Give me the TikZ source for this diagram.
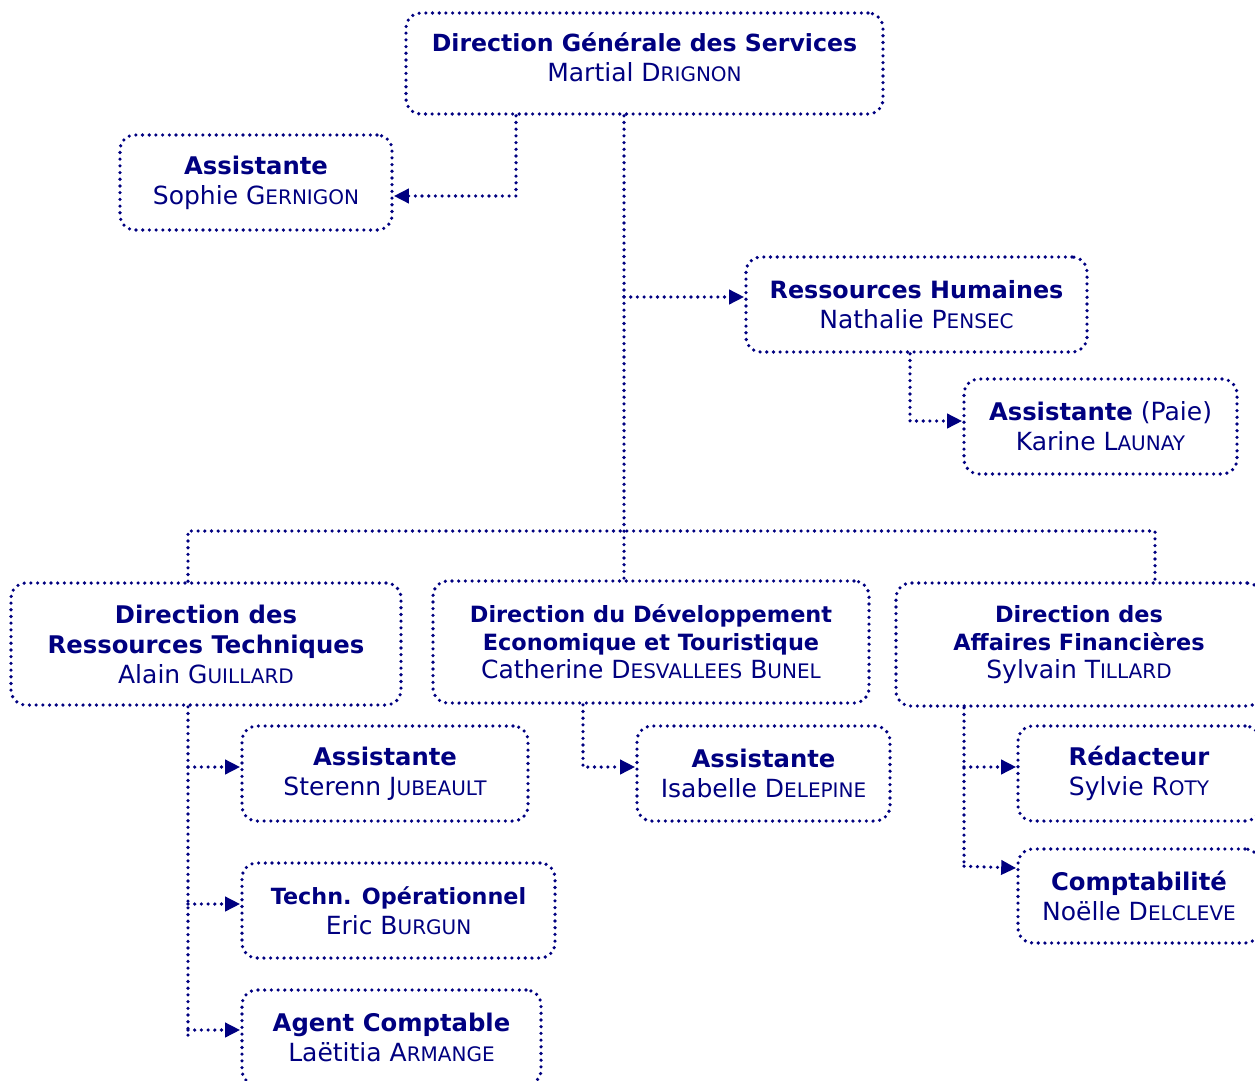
\documentclass[tikz,border=0pt]{standalone}
\usepackage{fontspec}
\setmainfont{DejaVu Sans}
\usetikzlibrary{arrows.meta}
\definecolor{navy}{RGB}{0,0,128}
\newcommand\smc[1]{{\fontsize{20}{30}\selectfont #1}}
\newcommand\ttl[1]{{\fontsize{24.3}{30}\selectfont\bfseries #1}}
\begin{document}
\begin{tikzpicture}[x=1pt, y=-1pt,
   dotline/.style={navy, line width=3.6pt, line cap=round, dash pattern=on 0pt off 6.7pt},
   box/.style={draw, dotline, rounded corners=15pt, inner sep=0pt, align=center, text=navy,
     font=\fontsize{25}{30}\selectfont},
   arr/.style={dotline, -{Triangle[length=15pt, width=14pt]}}]
   \useasboundingbox (0,0) rectangle (1255,1081);
   \clip (0,0) rectangle (1255,1081);
   % boxes
   \node[box, minimum width=477, minimum height=101] (dgs) at (644.5,63.5) {};
   \node[text=navy, align=center, font=\fontsize{25}{30}\selectfont] (dgst) at (644.5,57)
     {{\fontsize{23.6}{30}\selectfont\bfseries Direction Générale des Services}\\Martial D\smc{RIGNON}};
   \node[box, minimum width=272, minimum height=95] (sophie) at (256,182.5)
     {\ttl{Assistante}\\Sophie G\smc{ERNIGON}};
   \node[box, minimum width=341, minimum height=95] (rh) at (916.5,304.5)
     {{\fontsize{23.8}{30}\selectfont\bfseries Ressources Humaines}\\Nathalie P\smc{ENSEC}};
   \node[box, minimum width=273, minimum height=95] (paie) at (1100.5,426.5)
     {\ttl{Assistante} (Paie)\\Karine L\smc{AUNAY}};
   \node[box, minimum width=390, minimum height=122] (drt) at (206,644)
     {\ttl{Direction des}\\\ttl{Ressources Techniques}\\Alain G\smc{UILLARD}};
   \node[box, minimum width=436, minimum height=122, font=\fontsize{25}{28}\selectfont] (ddet) at (651,642)
     {{\fontsize{22.4}{28}\selectfont\bfseries Direction du Développement}\\
      {\fontsize{22.4}{28}\selectfont\bfseries Economique et Touristique}\\
      Catherine D\smc{ESVALLEES} B\smc{UNEL}};
   \node[box, minimum width=366, minimum height=123, font=\fontsize{25}{28}\selectfont] (daf) at (1079,644.5)
     {{\fontsize{22.4}{28}\selectfont\bfseries Direction des}\\
      {\fontsize{22.4}{28}\selectfont\bfseries Affaires Financières}\\
      Sylvain T\smc{ILLARD}};
   \node[box, minimum width=286, minimum height=95] (sterenn) at (385,773.5)
     {\ttl{Assistante}\\Sterenn J\smc{UBEAULT}};
   \node[box, minimum width=313, minimum height=95] (techn) at (398.5,910.5)
     {{\fontsize{22.3}{30}\selectfont\bfseries Techn. Opérationnel}\\Eric B\smc{URGUN}};
   \node[box, minimum width=299, minimum height=95] (agent) at (391.5,1037.5)
     {\ttl{Agent Comptable}\\Laëtitia A\smc{RMANGE}};
   \node[box, minimum width=253, minimum height=95] (isabelle) at (763.5,773.5)
     {\ttl{Assistante}\\Isabelle D\smc{ELEPINE}};
   \node[box, minimum width=242, minimum height=95] (redac) at (1139,773.5)
     {\ttl{Rédacteur}\\Sylvie R\smc{OTY}};
   \node[box, minimum width=242, minimum height=94] (compta) at (1139,896)
     {\ttl{Comptabilité}\\Noëlle D\smc{ELCLEVE}};
   % links
   \coordinate (bus) at (624,531);
   \coordinate (rhin) at ([yshift=7.5]rh.west);
   \coordinate (paiein) at ([yshift=5.5]paie.west);
   \coordinate (drtout) at ([xshift=-18]drt.south);
   \coordinate (dafout) at ([xshift=-115]daf.south);
   \draw[arr] ([xshift=-128.5]dgs.south) |- ([yshift=-13.5]sophie.east);
   \draw[dotline] ([xshift=-20.5]dgs.south) -- ([xshift=-27]ddet.north);
   \draw[arr] (bus |- rhin) -- (rhin);
   \draw[arr] ([xshift=-6.5]rh.south) |- (paiein);
   \draw[dotline] ([xshift=-18]drt.north) |- (bus) -| ([xshift=76]daf.north);
   \draw[dotline] (drtout) -- (drtout |- agent.west);
   \draw[arr] (drtout |- sterenn.west) ++(0,-6.5) -- ([yshift=6.5]sterenn.west);
   \draw[arr] (drtout |- techn.west) ++(0,-6.5) -- ([yshift=6.5]techn.west);
   \draw[arr] ([yshift=7.5]agent.west -| drtout) -- ([yshift=7.5]agent.west);
   \draw[arr] ([xshift=-68]ddet.south) |- ([yshift=6.5]isabelle.west);
   \draw[dotline] (dafout) -- (dafout |- compta.north) -- ++(0,19);
   \draw[arr] (dafout |- redac.west) ++(0,-6.5) -- ([yshift=6.5]redac.west);
   \draw[arr] (dafout |- compta.north) ++(0,19) -- ([yshift=28]compta.west);
\end{tikzpicture}
\end{document}
